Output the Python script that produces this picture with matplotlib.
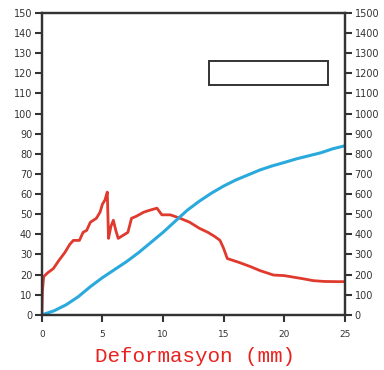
import matplotlib
matplotlib.use('Agg')
import matplotlib.pyplot as plt
from matplotlib.patches import Rectangle

# red curve (left axis)
red_x = [0, 0.05, 0.15, 0.5, 0.95, 1.4, 1.9, 2.3, 2.6, 3.1, 3.4, 3.7, 4.0, 4.5, 4.8, 5.0, 5.2, 5.4,
         5.5, 5.7, 5.9, 6.1, 6.3, 7.1, 7.4, 7.8, 8.4, 8.9, 9.5, 9.9, 10.6, 11.4, 12.2, 13.0, 13.7,
         14.3, 14.7, 15.0, 15.3, 16.3, 17.2, 18.0, 19.1, 20.0, 20.7, 21.5, 22.4, 23.3, 24.4, 25.0]
red_y = [0, 12, 19, 21, 23, 27, 31, 35, 37, 37, 41, 42, 46, 48, 51, 55, 57, 61,
         38, 44, 47, 42, 38, 41, 48, 49, 51, 52, 53, 49.7, 49.7, 48, 46, 43, 41,
         38.8, 37, 33, 28, 26, 24, 22, 19.8, 19.5, 18.8, 18, 17, 16.6, 16.5, 16.5]

# blue curve (right axis, x10)
blue_x = [0, 1, 2, 3, 4, 5, 6, 7, 8, 9, 10, 11, 12, 13, 14, 15, 16, 17, 18, 19, 20, 21, 22, 23, 24, 25]
blue_y = [0, 2, 5, 9, 14, 18.5, 22.5, 26.5, 31, 36, 41, 46.5, 52, 56.5, 60.5, 64, 67, 69.5, 72, 74,
          75.7, 77.5, 79, 80.5, 82.5, 84]

xticks = [0, 5, 10, 15, 20, 25]
lticks = list(range(0, 151, 10))
rticks = list(range(0, 1501, 100))

fig = plt.figure(figsize=(3.84, 3.70), dpi=100)
ax = fig.add_axes([0.109, 0.149, 0.789, 0.816])
ax.plot(red_x, red_y, color='#e0392d', lw=2)
ax.plot(blue_x, blue_y, color='#2aa9dd', lw=2.2)
ax.set_xlim(0, 25)
ax.set_ylim(0, 150)
ax.set_xticks(xticks)
ax.set_yticks(lticks)
ax.tick_params(direction='out', length=5, width=1.5, labelsize=7, colors='#333333', pad=2)
ax.tick_params(axis='x', labelsize=6.5, pad=6)
for s in ax.spines.values():
    s.set_linewidth(1.6)
    s.set_color('#333333')

ax2 = ax.twinx()
ax2.set_ylim(0, 1500)
ax2.set_yticks(rticks)
ax2.tick_params(direction='out', length=5, width=1.5, labelsize=7, colors='#333333', pad=2)
for s in ax2.spines.values():
    s.set_linewidth(1.6)
    s.set_color('#333333')

ax.add_patch(Rectangle((13.8, 114), 9.8, 12, fill=False, lw=1.4, edgecolor='#333333'))

fig.text(0.507, 0.022, 'Deformasyon (mm)', color='#e8231f', family='Liberation Mono',
         fontsize=15, ha='center')

fig.savefig('out.png', dpi=100)
